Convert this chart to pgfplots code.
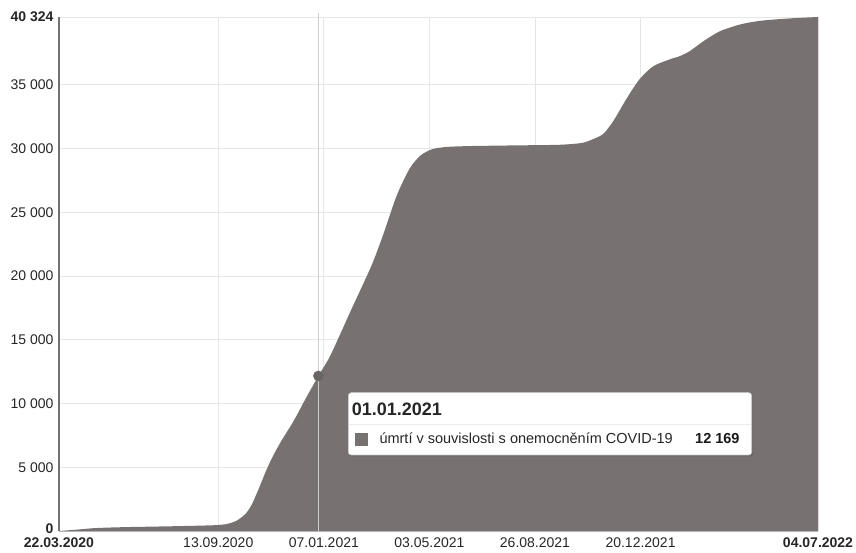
\documentclass[border=0pt]{standalone}
\usepackage{pgfplots}
\pgfplotsset{compat=1.18}
\usepackage{fontspec}
\setmainfont{Liberation Sans}
\definecolor{areagrey}{RGB}{119,114,113}
\definecolor{markgrey}{RGB}{105,101,100}
\definecolor{gridgrey}{RGB}{230,230,230}
\definecolor{vline}{RGB}{205,205,205}
\begin{document}
\begin{tikzpicture}
\useasboundingbox (-59bp,-22bp) rectangle (797bp,531bp);
\begin{axis}[
  scale only axis,
  width=759bp, height=514bp,
  xmin=0, xmax=834, ymin=0, ymax=40324,
  scaled ticks=false,
  axis x line*=bottom, axis y line*=left,
  x axis line style={draw=black!25, line width=1bp, -},
  y axis line style={draw=black!55, line width=1.2bp, -},
  xtick={0,175,291,407,523,639,834},
  xticklabels={\textbf{22.03.2020},13.09.2020,07.01.2021,03.05.2021,26.08.2021,20.12.2021,\textbf{04.07.2022}},
  ytick={0,5000,10000,15000,20000,25000,30000,35000,40324},
  yticklabels={\raisebox{4bp}{\textbf{0}},5 000,10 000,15 000,20 000,25 000,30 000,35 000,\textbf{40 324}},
  major tick length=0pt,
  tick label style={font=\fontsize{14bp}{16bp}\selectfont, text=black!85},
  xticklabel style={yshift=-3.5bp},
  yticklabel style={xshift=-2bp},
  grid=major,
  major grid style={draw=gridgrey, line width=0.8bp},
  clip=false,
]
\addplot[fill=areagrey, draw=none, smooth, tension=0.45] table {
x y
0 0
20 110
40 230
70 300
100 340
130 380
160 430
175 470
185 560
195 800
205 1350
212 2100
220 3400
228 4800
236 6000
245 7150
258 8650
270 10250
285 12169
297 13600
310 15600
322 17500
335 19500
345 21100
356 23200
371 26300
385 28400
397 29450
410 29950
426 30130
452 30200
500 30250
550 30300
575 30450
587 30750
598 31150
609 32150
624 33960
638 35450
653 36460
671 37000
682 37250
693 37640
708 38420
726 39200
748 39730
770 40020
800 40200
834 40324
} \closedcycle;
\addplot[draw=vline, line width=1.2bp] coordinates {(285,0) (285,40600)};
\addplot[only marks, mark=*, mark size=5bp, mark options={fill=markgrey, draw=markgrey}] coordinates {(285,12169)};
\end{axis}
% tooltip
\fill[black, opacity=0.12, rounded corners=3bp] (290.3bp,74.5bp) rectangle (694.2bp,137.3bp);
\filldraw[fill=white, draw=black!20, line width=0.6bp, rounded corners=3bp] (289.3bp,76bp) rectangle (692.7bp,138.3bp);
\draw[draw=black!8, line width=0.8bp] (289.6bp,107bp) -- (692.4bp,107bp);
\node[anchor=base west, inner sep=0pt, text=black!85] at (292.7bp,115bp) {\fontsize{18bp}{20bp}\selectfont\textbf{01.01.2021}};
\fill[areagrey] (296bp,85bp) rectangle (309.3bp,97.5bp);
\node[anchor=base west, inner sep=0pt, text=black!85] at (320.3bp,87bp) {\fontsize{14.5bp}{16bp}\selectfont úmrtí v souvislosti s onemocněním COVID-19};
\node[anchor=base west, inner sep=0pt, text=black!90] at (636bp,87bp) {\fontsize{14.5bp}{16bp}\selectfont\textbf{12 169}};
\end{tikzpicture}
\end{document}
